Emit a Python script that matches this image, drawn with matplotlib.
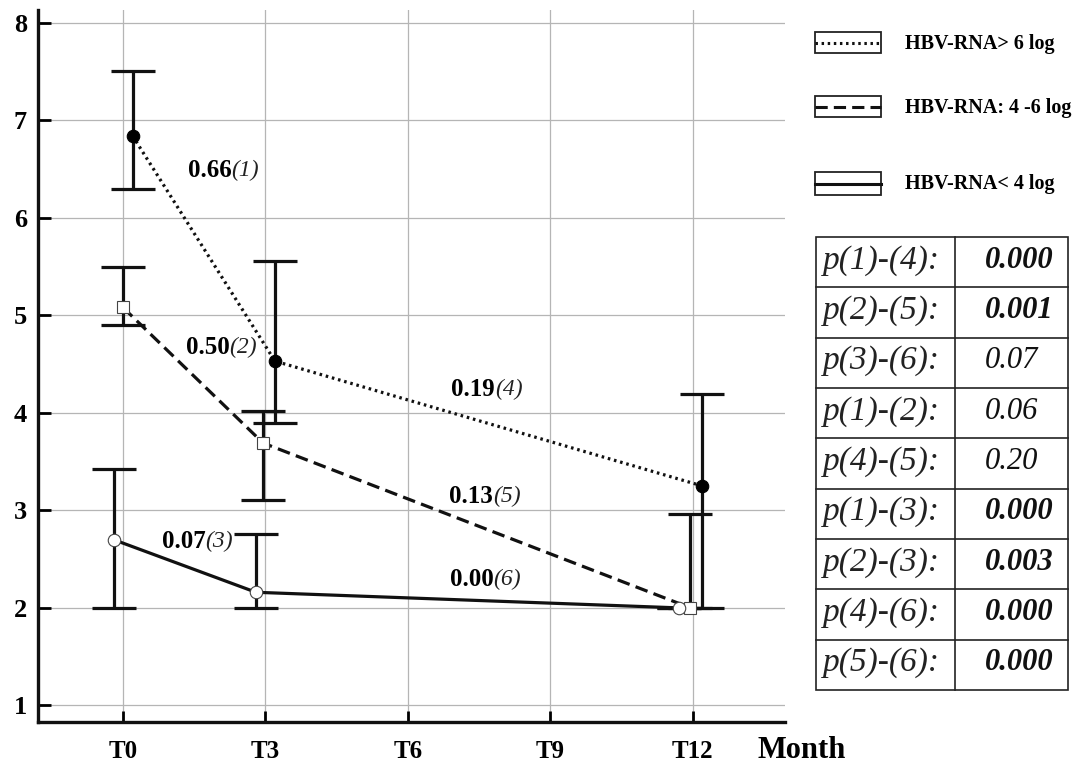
import matplotlib
matplotlib.use("Agg")
import matplotlib.pyplot as plt
import numpy as np
from matplotlib.patches import Rectangle

plt.rcParams['font.family'] = ['Liberation Serif', 'DejaVu Serif']

# data
months = [0, 3, 12]
xtick_months = [0, 3, 6, 9, 12]
xtick_labels = ['T0', 'T3', 'T6', 'T9', 'T12']

high_mean = [6.84, 4.53, 3.25]
high_lo = [6.29, 3.90, 2.00]
high_hi = [7.50, 5.56, 4.19]

mid_mean = [5.08, 3.69, 2.00]
mid_lo = [4.90, 3.11, 2.00]
mid_hi = [5.50, 4.02, 2.96]

low_mean = [2.70, 2.16, 2.00]
low_lo = [2.00, 2.00, 2.00]
low_hi = [3.42, 2.76, 2.00]

legend_labels = ['HBV-RNA> 6 log', 'HBV-RNA: 4 -6 log', 'HBV-RNA< 4 log']

slope_vals = ['0.66', '0.50', '0.07', '0.19', '0.13', '0.00']
slope_ids = ['(1)', '(2)', '(3)', '(4)', '(5)', '(6)']

p_labels = ['p(1)-(4):', 'p(2)-(5):', 'p(3)-(6):', 'p(1)-(2):', 'p(4)-(5):',
            'p(1)-(3):', 'p(2)-(3):', 'p(4)-(6):', 'p(5)-(6):']
p_values = ['0.000', '0.001', '0.07', '0.06', '0.20', '0.000', '0.003', '0.000', '0.000']

W, H = 1081, 765
fig = plt.figure(figsize=(W / 100, H / 100), dpi=100)
ax = fig.add_axes([38 / W, (H - 722) / H, (785 - 38) / W, (722 - 10) / H])

ax.set_xlim(-1.79, 13.94)
ax.set_ylim(0.83, 8.13)

# small horizontal shift so groups don't overlap
shifts = {'high': [0.2, 0.2, 0.2], 'mid': [0.0, -0.05, -0.05], 'low': [-0.2, -0.2, -0.3]}

series = [
    ('high', high_mean, high_lo, high_hi, (0, (0.8, 1.2)), 'o', 'black', 9),
    ('mid', mid_mean, mid_lo, mid_hi, (0, (4, 2)), 's', 'white', 9),
    ('low', low_mean, low_lo, low_hi, '-', 'o', 'white', 9),
]

for name, mean, lo, hi, ls, mk, fc, ms in series:
    x = np.array(months) + np.array(shifts[name])
    mean = np.array(mean)
    yerr = [mean - np.array(lo), np.array(hi) - mean]
    ax.errorbar(x, mean, yerr=yerr, fmt='none', ecolor='#111111',
                elinewidth=2.3, capsize=16, capthick=2.3, zorder=3)
    ax.plot(x, mean, linestyle=ls, color='#111111', linewidth=2.3, zorder=4)
    ax.plot(x, mean, linestyle='none', marker=mk, markersize=ms,
            markerfacecolor=fc, markeredgecolor='#444444' if fc == 'white' else 'black',
            markeredgewidth=0.8, zorder=5)

# slope annotations (bold value + italic index)
ann_pos = [(2.28, 6.48), (2.24, 4.67), (1.74, 2.68), (7.83, 4.24), (7.79, 3.14), (7.80, 2.29)]
for (ax_x, ax_y), v, i in zip(ann_pos, slope_vals, slope_ids):
    ax.text(ax_x, ax_y, v, ha='right', va='center', fontsize=18, fontweight='bold', zorder=6)
    ax.text(ax_x, ax_y, i, ha='left', va='center', fontsize=17, fontstyle='italic',
            color='#222222', zorder=6)

# axes style
ax.set_xticks(xtick_months)
ax.set_xticklabels(xtick_labels, fontsize=18, fontweight='bold')
ax.set_yticks(range(1, 9))
ax.set_yticklabels([str(v) for v in range(1, 9)], fontsize=19, fontweight='bold')
ax.tick_params(axis='x', direction='in', length=8, width=2, pad=13)
ax.tick_params(axis='y', direction='in', length=9, width=2, pad=8)
ax.grid(True, color='#b5b5b5', linewidth=0.9)
ax.set_axisbelow(True)
for s in ['top', 'right']:
    ax.spines[s].set_visible(False)
for s in ['left', 'bottom']:
    ax.spines[s].set_linewidth(2.4)
    ax.spines[s].set_color('#111111')

fig.text(757 / W, 1 - 750 / H, 'Month', ha='left', va='center', fontsize=22, fontweight='bold')

# legend drawn by hand in pixel coordinates
lax = fig.add_axes([800 / W, 1 - 220 / H, (W - 800) / W, 220 / H])
lax.set_xlim(800, W)
lax.set_ylim(220, 0)
lax.axis('off')
leg_rows = [(32, 53), (96, 117), (172, 195)]
leg_styles = [(0, (0.8, 1.2)), (0, (4, 2)), '-']
for (y0, y1), ls, lab in zip(leg_rows, leg_styles, legend_labels):
    lax.add_patch(Rectangle((815, y0), 66, y1 - y0, fill=False, edgecolor='#222222', linewidth=1.3))
    yc = (y0 + y1) / 2
    lax.plot([815, 881], [yc, yc], linestyle=ls, color='#111111', linewidth=2.2)
    lax.text(905, yc + 1, lab, ha='left', va='center', fontsize=14.5, fontweight='bold')

# p-value table
tax = fig.add_axes([812 / W, 1 - 695 / H, (1075 - 812) / W, (695 - 232) / H])
tax.set_xlim(812, 1075)
tax.set_ylim(695, 232)
tax.axis('off')
top, bot, left, mid, right = 237, 690, 816, 955, 1068
row_h = (bot - top) / len(p_labels)
tax.add_patch(Rectangle((left, top), right - left, bot - top, fill=False, edgecolor='#222222', linewidth=1.2))
tax.plot([mid, mid], [top, bot], color='#222222', linewidth=1.2)
for k in range(1, len(p_labels)):
    yk = top + k * row_h
    tax.plot([left, right], [yk, yk], color='#222222', linewidth=1.2)
for k, (lab, val) in enumerate(zip(p_labels, p_values)):
    yc = top + (k + 0.5) * row_h - 2
    tax.text(823, yc, lab, ha='left', va='center', fontsize=24, fontstyle='italic', color='#222222')
    sig = float(val) < 0.05
    tax.text(985, yc, val, ha='left', va='center', fontsize=22, fontstyle='italic',
             fontweight='bold' if sig else 'normal', color='#111111')

fig.savefig('out.png', dpi=100)
